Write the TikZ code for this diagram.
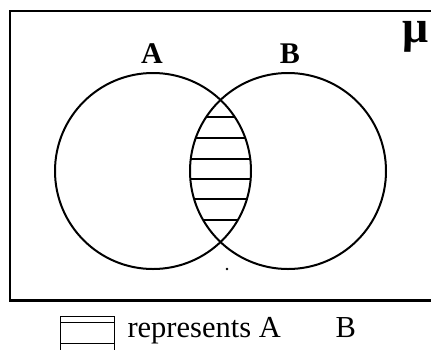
\documentclass[tikz,border=0pt]{standalone}
\usepackage{fontspec}
\setmainfont{Liberation Serif}
\usetikzlibrary{positioning}

\begin{document}
\begin{tikzpicture}[
  x=1pt,y=-1pt,
  framestyle/.style={draw, line width=2.6pt},
  setcircle/.style={draw, circle, line width=2pt, minimum size=196pt, inner sep=0pt},
  setlabel/.style={font=\fontsize{30}{34}\selectfont\bfseries, anchor=base},
  hatchline/.style={line width=2pt},
  legendline/.style={line width=1pt},
  legendtext/.style={font=\fontsize{30.5}{34}\selectfont, anchor=base west},
]
\useasboundingbox (0,0) rectangle (431,349);

% --- universe frame ---
\draw[framestyle] (10,11) rectangle (445,300.5);
\node[font=\fontsize{46}{50}\selectfont\bfseries, anchor=base] (mu) at (416,42) {μ};

% --- the two sets ---
\node[setcircle] (A) at (153,171) {};
\node[setcircle] (B) at (288,171) {};
\node[setlabel] (labA) at (152,63) {A};
\node[setlabel] (labB) at (290,63) {B};

% --- hatching of the intersection ---
\begin{scope}
  \clip (A.center) circle (98pt);
  \clip (B.center) circle (98pt);
  \foreach \y in {117,138,159,179,199,220} {
    \draw[hatchline] (180,\y) -- (260,\y);
  }
\end{scope}
\fill (227,269) circle (1.4pt);

% --- legend ---
\draw[legendline] (60,352) -- (60,316) -- (114,316) -- (114,352);
\draw[legendline] (60,322.5) -- (114,322.5);
\draw[legendline] (60,343) -- (114,343);
\node[legendtext] (rep) at (124,337) {represents A};
\node[legendtext] (repB) at (332,337) {B};

\end{tikzpicture}
\end{document}
